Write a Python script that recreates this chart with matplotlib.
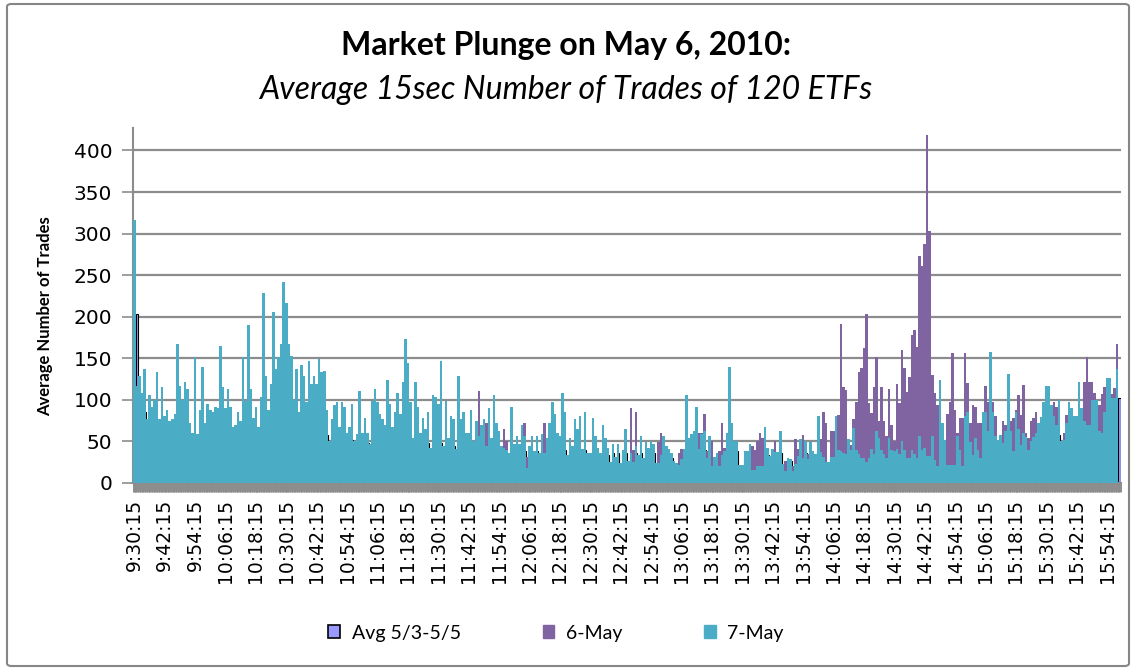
import numpy as np
import matplotlib
matplotlib.use("Agg")
import matplotlib.pyplot as plt
from matplotlib.patches import FancyBboxPatch, Patch

# ---- data: one value per minute, grouped in 12-minute blocks (9:30:15 .. 16:00) ----
tick_labels = ["9:30:15", "9:42:15", "9:54:15", "10:06:15", "10:18:15", "10:30:15",
               "10:42:15", "10:54:15", "11:06:15", "11:18:15", "11:30:15", "11:42:15",
               "11:54:15", "12:06:15", "12:18:15", "12:30:15", "12:42:15", "12:54:15",
               "13:06:15", "13:18:15", "13:30:15", "13:42:15", "13:54:15", "14:06:15",
               "14:18:15", "14:30:15", "14:42:15", "14:54:15", "15:06:15", "15:18:15",
               "15:30:15", "15:42:15", "15:54:15"]

may7 = [
    [316, 117, 129, 108, 137, 77, 106, 92, 100, 133, 77, 115],
    [80, 88, 74, 77, 83, 167, 117, 100, 121, 113, 72, 60],
    [152, 59, 88, 139, 72, 95, 88, 85, 92, 90, 165, 115],
    [90, 113, 92, 67, 70, 85, 74, 152, 99, 190, 113, 78],
    [92, 67, 103, 229, 129, 88, 119, 206, 137, 152, 167, 242],
    [217, 167, 153, 100, 137, 85, 142, 129, 98, 147, 119, 129],
    [119, 149, 133, 135, 88, 51, 77, 94, 98, 67, 98, 92],
    [60, 67, 95, 51, 59, 111, 60, 78, 60, 47, 99, 113],
    [98, 83, 77, 70, 124, 95, 67, 85, 108, 83, 121, 173],
    [144, 98, 54, 121, 92, 60, 78, 65, 85, 42, 106, 103],
    [95, 147, 44, 99, 54, 80, 77, 41, 129, 77, 85, 60],
    [60, 88, 51, 74, 56, 70, 77, 44, 90, 54, 106, 72],
    [62, 44, 42, 40, 36, 92, 47, 56, 47, 70, 56, 18],
    [44, 56, 38, 56, 36, 59, 36, 54, 72, 97, 83, 60],
    [56, 108, 85, 34, 54, 44, 77, 65, 80, 41, 85, 36],
    [36, 78, 57, 42, 36, 70, 54, 42, 25, 47, 31, 47],
    [24, 40, 65, 26, 36, 25, 44, 34, 56, 30, 49, 42],
    [51, 47, 24, 24, 34, 56, 44, 41, 36, 26, 24, 22],
    [29, 41, 106, 54, 59, 62, 92, 41, 59, 62, 30, 56],
    [20, 31, 36, 20, 34, 38, 60, 139, 72, 51, 51, 22],
    [22, 38, 38, 47, 16, 16, 20, 20, 20, 67, 42, 33],
    [41, 37, 37, 62, 23, 15, 30, 29, 15, 23, 33, 53],
    [30, 50, 29, 49, 39, 35, 80, 37, 31, 25, 25, 31],
    [31, 80, 40, 38, 36, 35, 53, 40, 66, 40, 35, 30],
    [30, 25, 30, 41, 35, 62, 54, 40, 35, 30, 54, 40],
    [39, 41, 35, 50, 40, 30, 30, 40, 35, 30, 56, 40],
    [42, 32, 32, 56, 28, 20, 124, 72, 52, 22, 22, 22],
    [22, 56, 40, 20, 80, 85, 49, 34, 54, 40, 30, 85],
    [85, 62, 158, 85, 56, 52, 58, 48, 62, 131, 62, 38],
    [86, 65, 46, 60, 55, 40, 50, 55, 60, 72, 79, 98],
    [117, 117, 94, 80, 70, 100, 50, 52, 72, 97, 90, 80],
    [80, 122, 90, 74, 70, 70, 100, 100, 100, 62, 60, 86],
    [126, 126, 102, 102, 137, 0],
]

may6 = [
    [250, 95, 100, 85, 110, 65, 85, 75, 80, 105, 65, 90],
    [65, 70, 60, 62, 80, 130, 95, 80, 95, 90, 60, 50],
    [120, 50, 70, 110, 60, 75, 70, 70, 75, 72, 130, 90],
    [72, 90, 75, 55, 60, 76, 74, 120, 80, 150, 90, 65],
    [75, 55, 85, 180, 100, 70, 95, 160, 110, 120, 130, 190],
    [170, 130, 120, 80, 110, 70, 110, 100, 80, 115, 95, 100],
    [95, 120, 105, 110, 70, 42, 62, 75, 80, 55, 80, 75],
    [50, 55, 75, 42, 50, 90, 50, 62, 50, 40, 80, 90],
    [80, 68, 62, 58, 100, 78, 55, 70, 108, 68, 100, 140],
    [115, 80, 45, 100, 75, 50, 65, 55, 70, 36, 85, 85],
    [78, 120, 38, 80, 45, 65, 62, 35, 105, 62, 70, 50],
    [50, 72, 42, 60, 111, 60, 60, 72, 78, 45, 85, 60],
    [50, 36, 65, 51, 30, 75, 40, 45, 40, 58, 72, 31],
    [36, 45, 30, 45, 30, 50, 72, 45, 60, 80, 70, 50],
    [45, 90, 70, 28, 45, 36, 62, 52, 65, 34, 70, 30],
    [30, 62, 46, 34, 30, 56, 44, 35, 22, 40, 26, 40],
    [20, 35, 52, 22, 90, 40, 85, 28, 45, 25, 40, 35],
    [40, 38, 20, 49, 60, 45, 36, 33, 30, 22, 20, 36],
    [41, 33, 85, 44, 48, 50, 75, 60, 60, 83, 38, 45],
    [51, 25, 30, 38, 72, 42, 50, 110, 58, 42, 42, 18],
    [18, 30, 30, 38, 45, 40, 50, 60, 54, 52, 34, 28],
    [33, 50, 30, 50, 18, 27, 27, 24, 20, 53, 41, 42],
    [58, 43, 35, 40, 30, 28, 60, 53, 85, 72, 20, 62],
    [62, 53, 82, 191, 116, 112, 37, 46, 77, 98, 134, 138],
    [162, 203, 96, 84, 115, 152, 74, 116, 74, 56, 113, 70],
    [50, 119, 96, 160, 138, 110, 128, 178, 184, 164, 273, 261],
    [287, 418, 303, 130, 108, 94, 58, 60, 50, 83, 98, 156],
    [88, 60, 78, 78, 156, 120, 72, 94, 92, 72, 72, 50],
    [117, 97, 70, 98, 80, 45, 50, 74, 70, 60, 74, 78],
    [88, 106, 82, 118, 60, 54, 74, 78, 85, 55, 60, 70],
    [90, 80, 70, 97, 92, 70, 48, 60, 82, 70, 60, 70],
    [60, 90, 68, 122, 152, 122, 122, 108, 80, 94, 107, 115],
    [126, 107, 107, 114, 167, 0],
]

avg_prior = [
    [90, 203, 80, 75, 85, 60, 70, 65, 70, 75, 60, 70],
    [55, 60, 55, 58, 60, 70, 65, 62, 68, 66, 55, 48],
    [52, 50, 60, 62, 55, 60, 58, 58, 60, 60, 65, 62],
    [60, 62, 60, 55, 58, 60, 58, 62, 60, 65, 62, 58],
    [60, 55, 62, 70, 68, 62, 65, 70, 68, 70, 72, 75],
    [72, 70, 68, 65, 66, 62, 65, 64, 62, 64, 60, 62],
    [60, 62, 60, 60, 58, 45, 55, 56, 55, 52, 54, 52],
    [48, 50, 52, 45, 48, 52, 48, 50, 48, 42, 50, 52],
    [52, 50, 50, 48, 52, 50, 48, 50, 52, 50, 52, 55],
    [52, 50, 44, 50, 48, 46, 48, 46, 48, 38, 48, 48],
    [46, 48, 38, 46, 42, 45, 45, 35, 46, 44, 45, 42],
    [42, 44, 40, 42, 42, 42, 42, 36, 44, 40, 44, 42],
    [40, 36, 35, 35, 32, 40, 36, 38, 36, 40, 38, 16],
    [35, 38, 32, 38, 30, 38, 32, 38, 40, 42, 40, 38],
    [38, 40, 40, 30, 38, 36, 40, 38, 40, 34, 40, 32],
    [32, 38, 36, 34, 32, 36, 36, 34, 22, 36, 28, 36],
    [22, 34, 36, 24, 32, 23, 36, 30, 36, 28, 36, 34],
    [36, 36, 22, 22, 30, 36, 34, 34, 30, 24, 22, 20],
    [26, 32, 38, 36, 36, 38, 40, 36, 40, 40, 28, 38],
    [18, 26, 30, 18, 30, 34, 38, 42, 40, 38, 38, 20],
    [20, 30, 32, 36, 16, 15, 36, 19, 19, 38, 34, 30],
    [32, 34, 34, 36, 21, 14, 28, 27, 14, 21, 30, 36],
    [28, 36, 27, 36, 34, 32, 38, 34, 29, 24, 20, 29],
    [29, 38, 36, 35, 34, 33, 36, 36, 40, 36, 33, 29],
    [29, 24, 29, 36, 33, 40, 40, 36, 33, 29, 40, 36],
    [36, 38, 33, 40, 36, 29, 29, 36, 33, 29, 40, 36],
    [38, 30, 30, 42, 28, 19, 50, 45, 42, 21, 21, 21],
    [21, 45, 38, 19, 50, 52, 44, 32, 45, 36, 29, 50],
    [50, 50, 55, 55, 48, 46, 48, 44, 50, 55, 50, 36],
    [55, 50, 44, 50, 50, 38, 46, 48, 50, 50, 52, 55],
    [60, 60, 58, 56, 55, 58, 46, 50, 56, 58, 56, 56],
    [56, 60, 58, 56, 56, 56, 60, 60, 60, 55, 56, 60],
    [62, 62, 60, 62, 64, 102],
]

y_may7 = np.concatenate(may7)
y_may6 = np.concatenate(may6)
y_avg = np.concatenate(avg_prior)
x = np.arange(len(y_may7))

C_AVG = "#9999FF"
C_MAY6 = "#8064A2"
C_MAY7 = "#4BACC6"
GRID = "#8C8C8C"

fig = plt.figure(figsize=(11.32, 6.70), dpi=100)
fig.patch.set_facecolor("white")
fig.patches.append(FancyBboxPatch((7 / 1132, 4 / 670), 1122 / 1132, 662 / 670,
                                  boxstyle="round,pad=0,rounding_size=0.004",
                                  transform=fig.transFigure, fill=False,
                                  edgecolor="#868686", linewidth=1.5))

ax = fig.add_axes([133 / 1132, 1 - 483 / 670, 988 / 1132, 355 / 670])

ax.bar(x, y_avg, width=1.0, color=C_AVG, edgecolor="black", linewidth=0.8, zorder=2)
ax.bar(x, y_may6, width=1.0, color=C_MAY6, linewidth=0, zorder=3)
ax.bar(x, y_may7, width=1.0, color=C_MAY7, linewidth=0, zorder=4)

ax.set_xlim(-0.5, len(x) - 0.5)
ax.set_ylim(0, 427)
ax.set_yticks(np.arange(0, 401, 50))
ax.yaxis.grid(True, color=GRID, linewidth=1.6)
ax.set_axisbelow(True)

major = np.arange(0, len(x), 12)
ax.set_xticks(major)
ax.set_xticklabels(tick_labels, rotation=90)
ax.set_xticks(np.arange(-0.375, len(x) - 0.5, 0.25), minor=True)
ax.tick_params(axis="x", which="both", length=6.5, width=0.7, color="#8C8C8C", pad=5,
               labelsize=13.5, labelfontfamily="DejaVu Sans")
ax.tick_params(axis="y", length=8, width=1.2, color="#8C8C8C", pad=7,
               labelsize=14.5, labelfontfamily="DejaVu Sans")

for s in ["top", "right"]:
    ax.spines[s].set_visible(False)
ax.spines["left"].set_color("#8C8C8C")
ax.spines["left"].set_linewidth(1.5)
ax.spines["bottom"].set_color("#8C8C8C")
ax.spines["bottom"].set_linewidth(1.5)

ax.set_ylabel("Average Number of Trades", family="Lato", fontweight="bold", fontsize=12)
ax.yaxis.set_label_coords(-80 / 988, 0.47)

fig.text(566 / 1132, 1 - 46 / 670, "Market Plunge on May 6, 2010:", family="Lato",
         fontweight="bold", fontsize=23, ha="center", va="center")
fig.text(566 / 1132, 1 - 90 / 670, "Average 15sec Number of Trades of 120 ETFs", family="Lato",
         style="italic", fontsize=23, ha="center", va="center")

handles = [Patch(facecolor=C_AVG, edgecolor="black", linewidth=1.2, label="Avg 5/3-5/5"),
           Patch(facecolor=C_MAY6, edgecolor=C_MAY6, label="6-May"),
           Patch(facecolor=C_MAY7, edgecolor=C_MAY7, label="7-May")]
fig.legend(handles=handles, loc="center", bbox_to_anchor=(556 / 1132, 1 - 633 / 670), ncol=3,
           frameon=False, prop={"family": "Lato", "size": 14}, handlelength=0.6,
           handleheight=0.65, handletextpad=0.6, columnspacing=4.2)

fig.savefig("out.png", dpi=100)
